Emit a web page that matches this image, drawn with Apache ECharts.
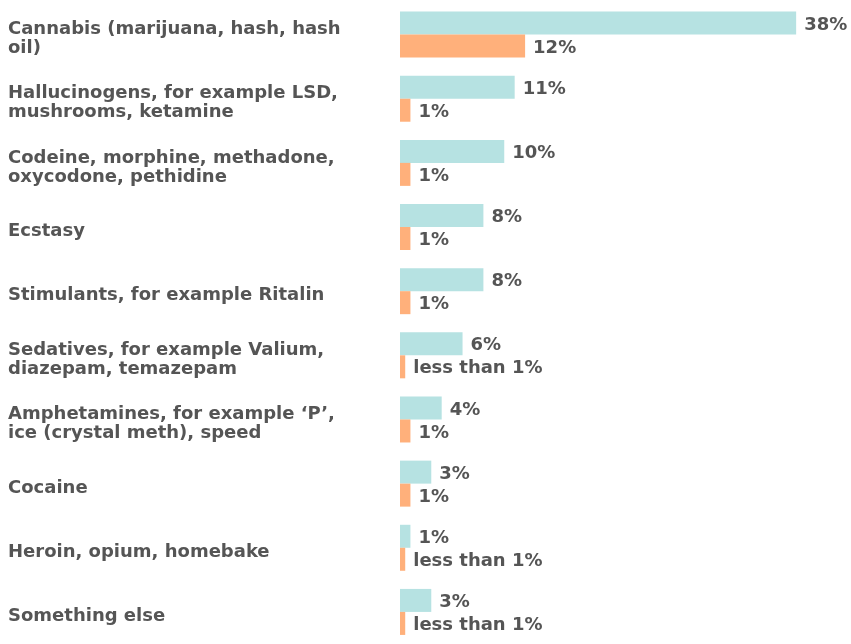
<!DOCTYPE html>
<html>
<head>
<meta charset="utf-8">
<script src="https://cdn.jsdelivr.net/npm/echarts@6/dist/echarts.min.js"></script>
<style>
  html, body { margin: 0; padding: 0; background: #fff; }
  #chart { width: 851px; height: 644px; }
</style>
</head>
<body>
<div id="chart"></div>
<script>
var categories = [
    'Cannabis (marijuana, hash, hash\noil)',
    'Hallucinogens, for example LSD,\nmushrooms, ketamine',
    'Codeine, morphine, methadone,\noxycodone, pethidine',
    'Ecstasy',
    'Stimulants, for example Ritalin',
    'Sedatives, for example Valium,\ndiazepam, temazepam',
    'Amphetamines, for example \u2018P\u2019,\nice (crystal meth), speed',
    'Cocaine',
    'Heroin, opium, homebake',
    'Something else'
];
var tealValues = [38, 11, 10, 8, 8, 6, 4, 3, 1, 3];
var tealLabels = ['38%', '11%', '10%', '8%', '8%', '6%', '4%', '3%', '1%', '3%'];
var orangeValues = [12, 1, 1, 1, 1, 0.5, 1, 1, 0.5, 0.5];
var orangeLabels = ['12%', '1%', '1%', '1%', '1%', 'less than 1%', '1%', '1%', 'less than 1%', 'less than 1%'];

var textFont = '"DejaVu Sans", sans-serif';
var chart = echarts.init(document.getElementById('chart'));

function barLabel(labels) {
    return {
        show: true,
        position: 'right',
        distance: 8,
        offset: [0, 2],
        color: '#555',
        fontFamily: textFont,
        fontWeight: 'bold',
        fontSize: 18,
        formatter: function (p) { return labels[p.dataIndex]; }
    };
}

var option = {
    animation: false,
    grid: {
        left: 400,
        top: 2.5,
        width: 417,
        height: 644
    },
    xAxis: {
        type: 'value',
        min: 0,
        max: 40,
        show: false
    },
    yAxis: {
        type: 'category',
        data: categories,
        inverse: true,
        axisLine: {show: false},
        axisTick: {show: false},
        axisLabel: {
            align: 'left',
            margin: 392,
            color: '#555',
            fontFamily: textFont,
            fontWeight: 'bold',
            fontSize: 18,
            lineHeight: 19,
            // push text a little below the band centre, like the original
            formatter: function (v) {
                return '{s|}\n' + v.split('\n').map(function (s) { return '{t|' + s + '}'; }).join('\n');
            },
            rich: {
                s: {height: 9, lineHeight: 9, fontSize: 1},
                t: {}
            }
        }
    },
    series: [
        {
            name: 'teal',
            type: 'bar',
            data: tealValues,
            barWidth: 23,
            barGap: '0%',
            itemStyle: {color: '#b6e2e2'},
            label: barLabel(tealLabels)
        },
        {
            name: 'orange',
            type: 'bar',
            data: orangeValues,
            barWidth: 23,
            barGap: '0%',
            itemStyle: {color: '#ffb07b'},
            label: barLabel(orangeLabels)
        }
    ]
};
chart.setOption(option);
</script>
</body>
</html>
